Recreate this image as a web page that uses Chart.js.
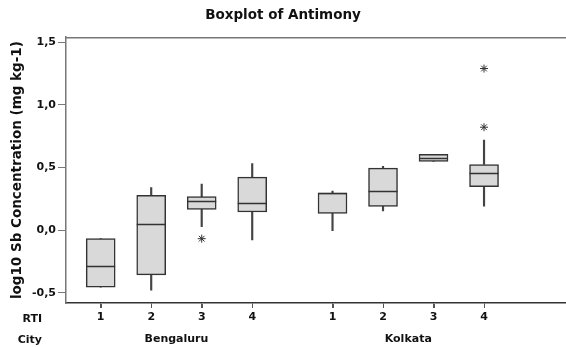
<!DOCTYPE html>
<html>
<head>
<meta charset="utf-8">
<script src="https://cdn.jsdelivr.net/npm/chart.js@4"></script>
<style>
  body { margin: 0; background: #fff; }
  #wrap { width: 566px; height: 347px; }
</style>
</head>
<body>
<div id="wrap"><canvas id="box"></canvas></div>
<script>
// data
const rti = ['1', '2', '3', '4', '1', '2', '3', '4'];
const cities = ['Bengaluru', 'Kolkata'];
const cityOf = [0, 0, 0, 0, 1, 1, 1, 1];
const whiskerLow  = [-0.454, -0.478, 0.029, -0.077, -0.003, 0.154, 0.549, 0.193];
const q1          = [-0.454, -0.356, 0.167,  0.146,  0.135, 0.191, 0.549, 0.347];
const median      = [-0.286,  0.050, 0.236,  0.215,  0.295, 0.315, 0.576, 0.456];
const q3          = [-0.067,  0.279, 0.268,  0.424,  0.297, 0.496, 0.605, 0.525];
const whiskerHigh = [-0.067,  0.340, 0.369,  0.533,  0.313, 0.510, 0.605, 0.719];
const outliers = [[], [], [-0.067], [], [], [], [], [1.29, 0.822]];
const yTicks = [-0.5, 0, 0.5, 1, 1.5];

// layout: extra space between the two cities
const cityGap = 0.59;
const pos = rti.map((r, i) => i + 1 + cityOf[i] * cityGap);
const cityCenter = cities.map((c, k) => {
  const p = pos.filter((v, i) => cityOf[i] === k);
  return (p[0] + p[p.length - 1]) / 2;
});

Chart.defaults.font.family = 'DejaVu Sans';
Chart.defaults.color = '#111';

const ink = '#333';

const medianLines = {
  id: 'medianLines',
  afterDatasetsDraw(chart) {
    const ctx = chart.ctx;
    const y = chart.scales.y;
    const x = chart.scales.x;
    const bars = chart.getDatasetMeta(0).data;
    ctx.save();
    ctx.strokeStyle = ink;
    ctx.lineWidth = 1.5;
    bars.forEach((b, i) => {
      const py = Math.round(y.getPixelForValue(median[i])) + 0.5;
      ctx.beginPath();
      ctx.moveTo(b.x - b.width / 2, py);
      ctx.lineTo(b.x + b.width / 2, py);
      ctx.stroke();
    });
    const a = chart.chartArea;
    // tick marks under the x axis
    ctx.strokeStyle = '#555';
    ctx.lineWidth = 1;
    pos.forEach(v => {
      const px = Math.round(x.getPixelForValue(v)) + 0.5;
      ctx.beginPath();
      ctx.moveTo(px, a.bottom + 1);
      ctx.lineTo(px, a.bottom + 5);
      ctx.stroke();
    });
    // top frame line
    ctx.strokeStyle = '#777';
    ctx.lineWidth = 1.5;
    ctx.beginPath();
    ctx.moveTo(a.left, a.top + 0.5);
    ctx.lineTo(a.right, a.top + 0.5);
    ctx.stroke();
    // row headers under the axis
    ctx.fillStyle = '#111';
    ctx.font = 'bold 11px "DejaVu Sans"';
    ctx.textAlign = 'right';
    ctx.textBaseline = 'middle';
    ctx.fillText('RTI', 42, a.bottom + 16);
    ctx.fillText('City', 42, a.bottom + 37);
    ctx.restore();
  }
};

new Chart(document.getElementById('box'), {
  data: {
    datasets: [
      {
        type: 'bar',
        data: pos.map((x, i) => ({ x: x, y: [q1[i], q3[i]] })),
        backgroundColor: '#d9d9d9',
        borderColor: ink,
        borderWidth: 1.5,
        borderSkipped: false,
        barThickness: 29,
        grouped: false,
        order: 1
      },
      {
        type: 'bar',
        data: pos.map((x, i) => ({ x: x, y: [q3[i], whiskerHigh[i]] })),
        backgroundColor: '#444',
        borderWidth: 0,
        barThickness: 1.5,
        grouped: false,
        order: 2
      },
      {
        type: 'bar',
        data: pos.map((x, i) => ({ x: x, y: [whiskerLow[i], q1[i]] })),
        backgroundColor: '#444',
        borderWidth: 0,
        barThickness: 1.5,
        grouped: false,
        order: 2
      },
      {
        type: 'scatter',
        data: outliers.flatMap((o, i) => o.map(v => ({ x: pos[i], y: v }))),
        pointStyle: 'star',
        radius: 4,
        borderColor: ink,
        borderWidth: 1,
        order: 0
      }
    ]
  },
  options: {
    responsive: true,
    maintainAspectRatio: false,
    animation: false,
    layout: { padding: 0, autoPadding: false },
    plugins: {
      legend: { display: false },
      tooltip: { enabled: false },
      title: {
        display: true,
        text: 'Boxplot of Antimony',
        font: { size: 13.5, weight: 'bold' },
        color: '#111',
        padding: { top: 7, bottom: 14 }
      }
    },
    scales: {
      x: {
        type: 'linear',
        offset: false,
        min: 0.313,
        max: 10.213,
        afterBuildTicks: ax => { ax.ticks = pos.map(v => ({ value: v })); },
        afterFit: ax => { ax.height = 22; },
        grid: { drawOnChartArea: false, offset: false, tickLength: 5, color: '#555' },
        border: { color: ink, width: 1.5 },
        ticks: {
          autoSkip: false,
          maxRotation: 0,
          padding: 3,
          font: { size: 11, weight: 'bold' },
          callback: (v, i) => rti[i]
        }
      },
      x2: {
        type: 'linear',
        position: 'bottom',
        offset: false,
        min: 0.313,
        max: 10.213,
        afterBuildTicks: ax => { ax.ticks = cityCenter.map(v => ({ value: v })); },
        afterFit: ax => { ax.height = 22; },
        grid: { display: false, drawTicks: false },
        border: { display: false },
        ticks: {
          autoSkip: false,
          maxRotation: 0,
          padding: 8,
          font: { size: 11, weight: 'bold' },
          callback: (v, i) => cities[i]
        }
      },
      y: {
        type: 'linear',
        min: -0.58,
        max: 1.54,
        afterBuildTicks: ax => { ax.ticks = yTicks.map(v => ({ value: v })); },
        afterFit: ax => { ax.width = 66; },
        grid: { drawOnChartArea: false, tickLength: 8, color: '#777' },
        border: { color: '#777', width: 1.5 },
        ticks: {
          padding: 2,
          font: { size: 11, weight: 'bold' },
          callback: v => v.toFixed(1).replace('.', ',')
        },
        title: {
          display: true,
          text: 'log10 Sb Concentration (mg kg-1)',
          font: { size: 13.5, weight: 'bold' },
          color: '#111',
          padding: { top: 9, bottom: 0 }
        }
      }
    }
  },
  plugins: [medianLines]
});
</script>
</body>
</html>
